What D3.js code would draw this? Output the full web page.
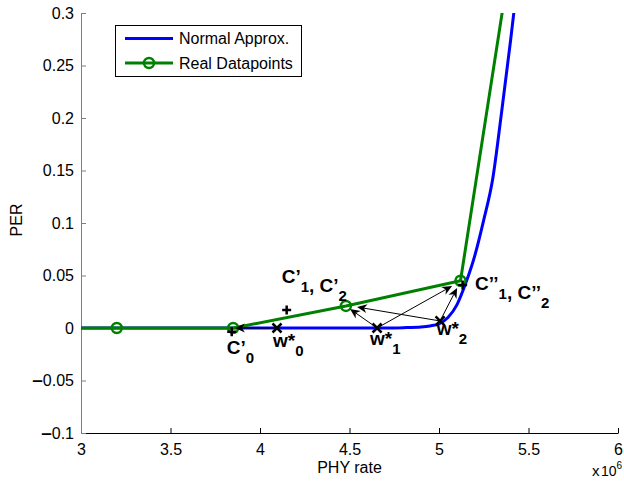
<!DOCTYPE html>
<html><head><meta charset="utf-8">
<script src="https://cdn.jsdelivr.net/npm/d3@7"></script>
<style>body{margin:0;background:#fff}svg{display:block}</style>
</head><body>
<script>
// ---- data ----
const normalX = [3.0e6, 3.5e6, 4.0e6, 4.5e6, 4.7e6, 4.8e6, 4.9e6, 4.95e6, 5.0e6, 5.05e6, 5.1e6, 5.15e6, 5.2e6, 5.25e6, 5.3e6, 5.35e6, 5.4e6, 5.45e6];
const normalY = [0, 0, 0, 0, 0, 0.0003, 0.001, 0.002, 0.004, 0.010, 0.022, 0.043, 0.069, 0.103, 0.142, 0.206, 0.274, 0.347];
const realX = [2.6e6, 3.2e6, 3.85e6, 4.48e6, 5.12e6, 5.4e6];
const realY = [0, 0, 0, 0.021, 0.045, 0.352];
const xTicks = [3e6, 3.5e6, 4e6, 4.5e6, 5e6, 5.5e6, 6e6];
const xTickLabels = ["3", "3.5", "4", "4.5", "5", "5.5", "6"];
const yTicks = [-0.1, -0.05, 0, 0.05, 0.1, 0.15, 0.2, 0.25, 0.3];
const yTickLabels = ["-0.1", "-0.05", "0", "0.05", "0.1", "0.15", "0.2", "0.25", "0.3"];
const seriesNames = ["Normal Approx.", "Real Datapoints"];
// annotation points (data units)
const wStarX = [4.095e6, 4.654e6, 5.006e6];
const wStarY = [0, 0, 0.0067];
const plusX = [3.842e6, 4.149e6, 5.132e6];
const plusY = [-0.0035, 0.0171, 0.041];
// arrows: [x1,y1,x2,y2]
const arrows = [
  [4.095e6, 0, 3.86e6, 0],
  [4.654e6, 0, 4.503e6, 0.0181],
  [5.006e6, 0.0067, 4.542e6, 0.020],
  [4.654e6, 0, 5.073e6, 0.040],
  [5.006e6, 0.0067, 5.101e6, 0.0381]
];
// labels: main, subscript pairs
const labels = [
  {x: 3.814e6, y: -0.0248, parts: [["C’", "0"]]},
  {x: 4.073e6, y: -0.0181, parts: [["w*", "0"]]},
  {x: 4.615e6, y: -0.0162, parts: [["w*", "1"]]},
  {x: 4.987e6, y: -0.0067, parts: [["w*", "2"]]},
  {x: 4.121e6, y: 0.0429, parts: [["C’", "1"], [", C’", "2"]]},
  {x: 5.201e6, y: 0.0362, parts: [["C’’", "1"], [", C’’", "2"]]}
];

const W = 624, H = 485;
const svg = d3.select("body").append("svg").attr("width", W).attr("height", H);
const x = d3.scaleLinear().domain([3e6, 6e6]).range([81, 618]);
const y = d3.scaleLinear().domain([-0.1, 0.3]).range([433, 13]);
const font = "'Liberation Sans', Arial, Helvetica, sans-serif";

svg.append("defs").append("clipPath").attr("id", "clip")
  .append("rect").attr("x", 81).attr("y", 13).attr("width", 537).attr("height", 420);

// axes
const xAxis = d3.axisBottom(x).tickValues(xTicks).tickFormat((d, i) => xTickLabels[i])
  .tickSizeInner(-5).tickSizeOuter(0).tickPadding(11);
const gx = svg.append("g").attr("transform", "translate(0,433)").call(xAxis);
gx.selectAll("text").attr("font-family", font).attr("font-size", 16).attr("fill", "#000");
gx.selectAll("line,path").attr("stroke", "#000");

const yAxis = d3.axisLeft(y).tickValues(yTicks).tickFormat((d, i) => yTickLabels[i])
  .tickSizeInner(-5).tickSizeOuter(0).tickPadding(7);
const gy = svg.append("g").attr("transform", "translate(81,0)").call(yAxis);
gy.selectAll("line,path").attr("stroke", "#808080");
gy.selectAll("text").attr("font-family", font).attr("font-size", 16).attr("fill", "#000")
  .each(function(d, i) {
    const lab = yTickLabels[i];
    const t = d3.select(this).text(null);
    if (lab.startsWith("-")) {
      t.append("tspan").attr("font-weight", "bold").attr("font-size", 19).text("–");
      t.append("tspan").text(lab.slice(1));
    } else t.text(lab);
  });

// axis labels
svg.append("text").attr("x", 349.5).attr("y", 473).attr("text-anchor", "middle")
  .attr("font-family", font).attr("font-size", 16).text("PHY rate");
svg.append("text").attr("transform", "translate(22,220) rotate(-90)").attr("text-anchor", "middle")
  .attr("font-family", font).attr("font-size", 16).text("PER");
const mult = svg.append("text").attr("y", 476).attr("font-family", font).attr("font-size", 14);
mult.append("tspan").attr("x", 592).attr("font-size", 15).text("x");
mult.append("tspan").attr("x", 601).text("10");
mult.append("tspan").attr("font-size", 10).attr("dy", -7).text("6");

// lines
const plot = svg.append("g").attr("clip-path", "url(#clip)");
const line = d3.line().x(d => x(d[0])).y(d => y(d[1])).curve(d3.curveMonotoneX);
const lineStraight = d3.line().x(d => x(d[0])).y(d => y(d[1]));
plot.append("path").datum(normalX.map((v, i) => [v, normalY[i]])).attr("d", line)
  .attr("fill", "none").attr("stroke", "#0000ff").attr("stroke-width", 3);
const realData = realX.map((v, i) => [v, realY[i]]);
plot.append("path").datum(realData).attr("d", lineStraight)
  .attr("fill", "none").attr("stroke", "#008000").attr("stroke-width", 3);
plot.selectAll("circle.rp").data(realData).enter().append("circle")
  .attr("cx", d => x(d[0])).attr("cy", d => y(d[1])).attr("r", 5)
  .attr("fill", "none").attr("stroke", "#008000").attr("stroke-width", 2.5);

// annotations: arrows
const ann = svg.append("g");
arrows.forEach(a => {
  const x1 = x(a[0]), y1 = y(a[1]), x2 = x(a[2]), y2 = y(a[3]);
  const ang = Math.atan2(y2 - y1, x2 - x1);
  const L = 10, Wd = 4.5, notch = 7;
  const ca = Math.cos(ang), sa = Math.sin(ang);
  const bx = x2 - L * ca, by = y2 - L * sa;
  const nx = x2 - notch * ca, ny = y2 - notch * sa;
  ann.append("line").attr("x1", x1).attr("y1", y1).attr("x2", nx).attr("y2", ny)
    .attr("stroke", "#000").attr("stroke-width", 1);
  const p = [[x2, y2], [bx - Wd * sa, by + Wd * ca], [nx, ny], [bx + Wd * sa, by - Wd * ca]];
  ann.append("path").attr("d", "M" + p.map(q => q.join(",")).join("L") + "Z").attr("fill", "#000");
});
// x markers
wStarX.forEach((v, i) => {
  const cx = x(v), cy = y(wStarY[i]), s = 4.5;
  ann.append("path").attr("d", `M${cx - s},${cy - s}L${cx + s},${cy + s}M${cx - s},${cy + s}L${cx + s},${cy - s}`)
    .attr("stroke", "#000").attr("stroke-width", 2.5);
});
plusX.forEach((v, i) => {
  const cx = x(v), cy = y(plusY[i]), s = 4.5;
  ann.append("path").attr("d", `M${cx - s},${cy}L${cx + s},${cy}M${cx},${cy - s}L${cx},${cy + s}`)
    .attr("stroke", "#000").attr("stroke-width", 2.5);
});
// labels
labels.forEach(l => {
  const t = ann.append("text").attr("x", x(l.x)).attr("y", y(l.y))
    .attr("font-family", font).attr("font-size", 19).attr("font-weight", "bold");
  l.parts.forEach(pp => {
    t.append("tspan").attr("dy", 0).text(pp[0]);
    t.append("tspan").attr("font-size", 15).attr("dy", 9).text(pp[1]);
    t.append("tspan").attr("dy", -9).text("");
  });
});

// legend
const lg = svg.append("g");
lg.append("rect").attr("x", 115.5).attr("y", 25.5).attr("width", 186).attr("height", 51)
  .attr("fill", "#fff").attr("stroke", "#000").attr("stroke-width", 1);
const colors = ["#0000ff", "#008000"];
seriesNames.forEach((n, i) => {
  const yy = 38.5 + i * 24.5;
  lg.append("line").attr("x1", 125).attr("x2", 173).attr("y1", yy).attr("y2", yy)
    .attr("stroke", colors[i]).attr("stroke-width", 3);
  if (i === 1) lg.append("circle").attr("cx", 149).attr("cy", yy).attr("r", 5)
    .attr("fill", "none").attr("stroke", colors[i]).attr("stroke-width", 2.5);
  lg.append("text").attr("x", 179).attr("y", yy + 5.5).attr("font-family", font)
    .attr("font-size", 16).text(n);
});
</script>
</body></html>
